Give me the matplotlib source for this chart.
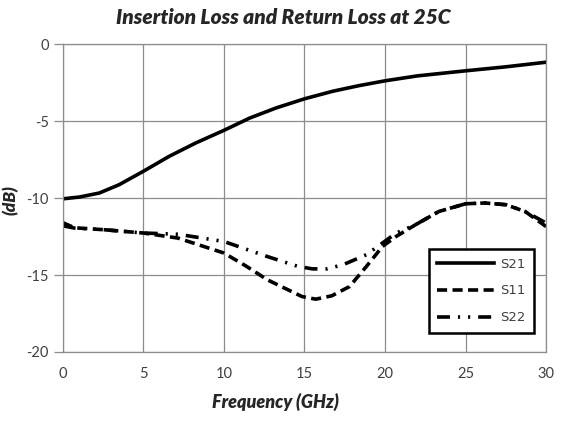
import matplotlib
matplotlib.use("Agg")
import matplotlib.pyplot as plt

plt.rcParams["axes.unicode_minus"] = False

freq_s21 = [0, 1.04, 2.27, 3.5, 5, 6.6, 8.25, 10, 11.6, 13.25, 15, 16.75, 18.4, 20, 22, 25, 27.5, 30]
s21 = [-10.05, -9.93, -9.67, -9.13, -8.26, -7.29, -6.42, -5.6, -4.8, -4.14, -3.55, -3.06, -2.69, -2.38,
       -2.06, -1.73, -1.47, -1.17]

freq_s11 = [0, 0.73, 2.6, 5, 7.15, 10, 11.35, 12.7, 14.85, 15.7, 16.7, 17.8, 18.85, 19.85, 20.7, 21.9,
            23.35, 25, 26.2, 27.5, 28.7, 30]
s11 = [-11.6, -11.93, -12.06, -12.27, -12.6, -13.57, -14.4, -15.31, -16.4, -16.57, -16.35, -15.75, -14.44,
       -13.14, -12.49, -11.73, -10.87, -10.37, -10.32, -10.43, -10.87, -11.85]

freq_s22 = [0, 0.73, 2.6, 5, 7.15, 10, 12.7, 14.6, 15.5, 16.4, 17.4, 18.85, 19.7, 20.7, 21.9, 23.35, 25,
            26.2, 27.5, 28.7, 30]
s22 = [-11.8, -11.95, -12.06, -12.27, -12.35, -12.82, -13.8, -14.44, -14.6, -14.6, -14.33, -13.68, -13.03,
       -12.27, -11.73, -10.87, -10.37, -10.32, -10.43, -10.87, -11.62]

labels = ["S21", "S11", "S22"]

fig = plt.figure(figsize=(5.76, 4.21), dpi=100)
ax = fig.add_axes([0.109, 0.164, 0.839, 0.731])

lw = 2.6
ax.plot(freq_s21, s21, color="black", lw=lw, ls="-", label=labels[0])
ax.plot(freq_s11, s11, color="black", lw=lw, ls=(0, (2.8, 1.5)), label=labels[1])
ax.plot(freq_s22, s22, color="black", lw=lw, ls=(0, (3.6, 2.2, 0.6, 2.2, 0.6, 2.2)), label=labels[2])

ax.set_xlim(0, 30)
ax.set_ylim(-20, 0)
ax.set_xticks(range(0, 31, 5))
ax.set_yticks(range(-20, 1, 5))
ax.grid(True, color="#8c8c8c", lw=0.9)
for s in ax.spines.values():
    s.set_color("#8c8c8c")
    s.set_linewidth(0.9)
ax.tick_params(axis="x", length=0, pad=11, labelsize=10.5, labelcolor="#404040")
ax.tick_params(axis="y", length=6.5, width=0.9, color="#8c8c8c", pad=3.5, labelsize=10.5, labelcolor="#404040")
for t in ax.get_xticklabels() + ax.get_yticklabels():
    t.set_family("Lato")

title_font = dict(family="Lato", style="italic", weight="heavy", color="#262626")
fig.text(0.491, 1 - 17 / 421, "Insertion Loss and Return Loss at 25C", fontsize=15,
         ha="center", va="center", **title_font)
fig.text(0.479, 1 - 402 / 421, "Frequency (GHz)", fontsize=13, ha="center", va="center", **title_font)
fig.text(0.019, 1 - 200 / 421, "(dB)", fontsize=12.5, rotation=90, ha="center", va="center", **title_font)

leg = ax.legend(loc="lower right", bbox_to_anchor=(0.975, 0.062), frameon=True, fancybox=False,
                edgecolor="black", handlelength=4.3, handletextpad=0.45, labelspacing=1.05,
                borderpad=0.65, borderaxespad=0,
                prop={"family": ["Liberation Sans Narrow", "DejaVu Sans Condensed"], "size": 9.5})
leg.get_frame().set_linewidth(1.8)
leg.get_frame().set_alpha(1)
for t in leg.get_texts():
    t.set_color("#404040")

fig.savefig("out.png", dpi=100)
